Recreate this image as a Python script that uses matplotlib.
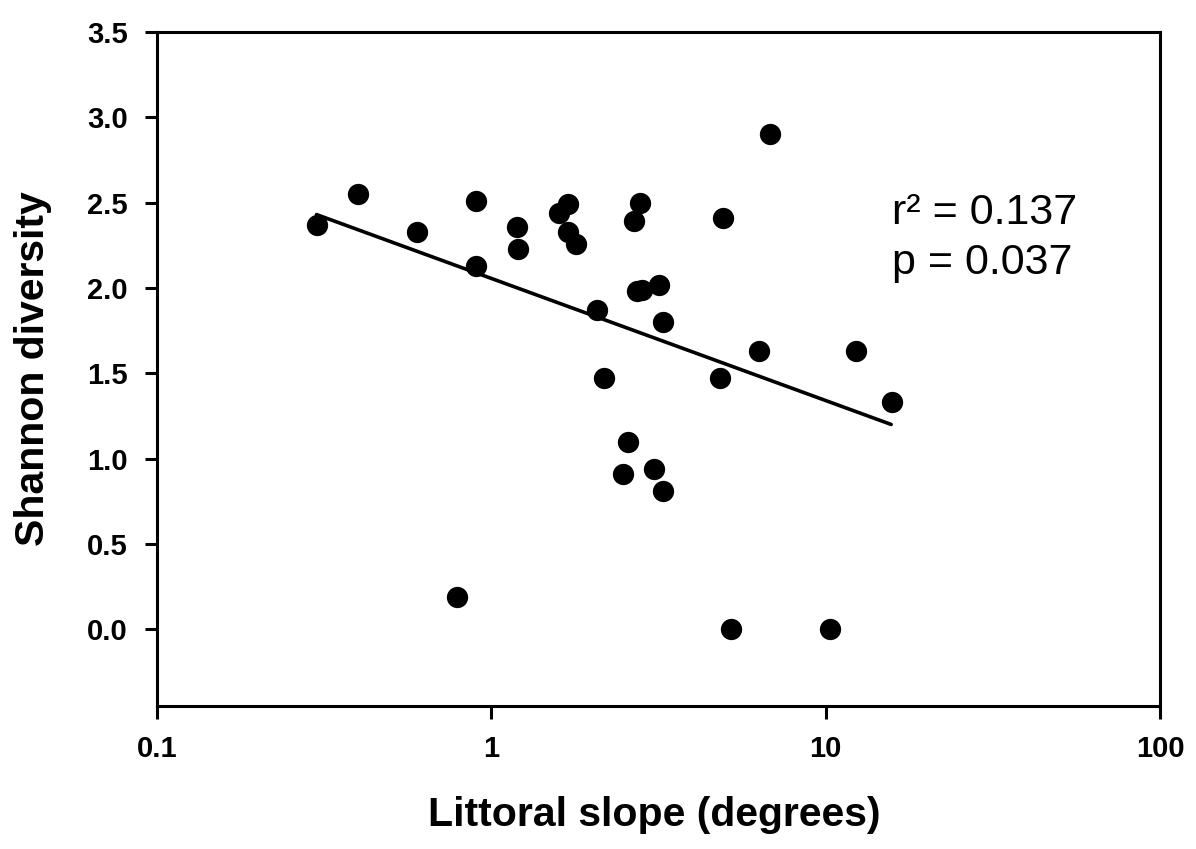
import numpy as np
import matplotlib
matplotlib.use("Agg")
import matplotlib.pyplot as plt
from matplotlib.ticker import FixedLocator, NullLocator

# Datos (pendiente en grados, diversidad de Shannon)
slope = [0.30, 0.40, 0.60, 0.90, 0.90, 1.195, 1.20, 1.69, 1.59, 1.69, 1.79,
         2.78, 2.67, 4.92, 2.72, 2.82, 3.17, 2.07, 3.27, 2.18, 4.83, 2.57,
         2.48, 3.06, 3.27, 6.34, 12.3, 15.8, 5.21, 10.3, 0.79, 6.83]
shannon = [2.37, 2.55, 2.33, 2.51, 2.13, 2.36, 2.23, 2.49, 2.44, 2.33, 2.26,
           2.50, 2.39, 2.41, 1.98, 1.99, 2.02, 1.87, 1.80, 1.47, 1.47, 1.10,
           0.91, 0.94, 0.81, 1.63, 1.63, 1.33, 0.00, 0.00, 0.19, 2.90]

# Recta de regresion (extremos)
fit_x = [0.30, 15.7]
fit_y = [2.43, 1.20]

xticks = [0.1, 1, 10, 100]
xtick_labels = ["0.1", "1", "10", "100"]
yticks = [0.0, 0.5, 1.0, 1.5, 2.0, 2.5, 3.0, 3.5]

plt.rcParams['font.family'] = ['Liberation Sans', 'DejaVu Sans']

fig = plt.figure(figsize=(11.96, 8.49), dpi=100)
ax = fig.add_axes([157 / 1196, 1 - 706 / 849, 1003 / 1196, 674 / 849])

ax.scatter(slope, shannon, s=235, color="black", zorder=3, linewidths=0)
ax.plot(fit_x, fit_y, color="black", lw=2.6, solid_capstyle="round", zorder=2)

ax.set_xscale("log")
ax.set_xlim(0.1, 100)
ax.set_ylim(-0.45, 3.5)

ax.xaxis.set_major_locator(FixedLocator(xticks))
ax.xaxis.set_minor_locator(NullLocator())
ax.set_xticklabels(xtick_labels)
ax.set_yticks(yticks)
ax.set_yticklabels([f"{v:.1f}" for v in yticks])

for s in ax.spines.values():
    s.set_linewidth(2.2)
ax.tick_params(axis="both", direction="out", length=9, width=2.2,
               labelsize=21)
ax.tick_params(axis="x", pad=12)
ax.tick_params(axis="y", pad=12)
for lab in ax.get_xticklabels() + ax.get_yticklabels():
    lab.set_fontweight("bold")

ax.set_xlabel("Littoral slope (degrees)", fontsize=29.5, fontweight="bold")
ax.set_ylabel("Shannon diversity", fontsize=29.5, fontweight="bold")
ax.xaxis.set_label_coords(0.496, -0.133)
ax.yaxis.set_label_coords(-0.105, 0.5)

ax.text(0.733, 0.731, "r² = 0.137", transform=ax.transAxes, fontsize=31,
        va="center", ha="left")
ax.text(0.733, 0.657, "p = 0.037", transform=ax.transAxes, fontsize=31,
        va="center", ha="left")

plt.savefig("out.png", dpi=100)
